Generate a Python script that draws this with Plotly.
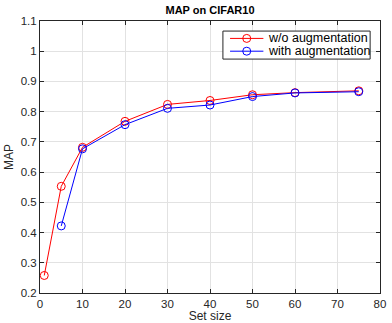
import plotly.graph_objects as go

x_wo = [1, 5, 10, 20, 30, 40, 50, 60, 75]
y_wo = [0.258, 0.553, 0.682, 0.768, 0.824, 0.837, 0.856, 0.863, 0.869]
x_with = [5, 10, 20, 30, 40, 50, 60, 75]
y_with = [0.422, 0.677, 0.757, 0.811, 0.822, 0.850, 0.862, 0.866]

x_ticks = [0, 10, 20, 30, 40, 50, 60, 70, 80]
y_ticks = [0.2, 0.3, 0.4, 0.5, 0.6, 0.7, 0.8, 0.9, 1.0, 1.1]
y_tick_labels = ["0.2", "0.3", "0.4", "0.5", "0.6", "0.7", "0.8", "0.9", "1", "1.1"]

series_names = ["w/o augmentation", "with augmentation"]
series_colors = ["#ff0000", "#0000ff"]

fig = go.Figure()
for xs, ys, name, col in [(x_wo, y_wo, series_names[0], series_colors[0]),
                          (x_with, y_with, series_names[1], series_colors[1])]:
    fig.add_trace(go.Scatter(x=xs, y=ys, mode="lines+markers", name=name,
                             line=dict(color=col, width=1),
                             marker=dict(symbol="circle-open", size=8, color=col, line=dict(width=1))))

# manual compact legend (MATLAB style)
shapes = [dict(type="rect", xref="paper", yref="paper", x0=0.538, x1=0.971, y0=0.860, y1=0.963,
               line=dict(color="#262626", width=1), fillcolor="white", layer="above")]
annotations = []
row_y = [0.936, 0.889]
for name, col, yy in zip(series_names, series_colors, row_y):
    shapes.append(dict(type="line", xref="paper", yref="paper", x0=0.559, x1=0.657, y0=yy, y1=yy,
                       line=dict(color=col, width=1), layer="above"))
    shapes.append(dict(type="circle", xref="paper", yref="paper", xsizemode="pixel", ysizemode="pixel",
                       xanchor=0.608, yanchor=yy, x0=-4, x1=4, y0=-4, y1=4,
                       line=dict(color=col, width=1), fillcolor="rgba(0,0,0,0)", layer="above"))
    annotations.append(dict(text=name, xref="paper", yref="paper", x=0.665, y=yy, xanchor="left",
                            yanchor="middle", showarrow=False, font=dict(size=12.5, color="black")))

font = "Liberation Sans, Arial, sans-serif"
fig.update_layout(
    width=392, height=323,
    margin=dict(l=40, r=12, t=21, b=30),
    paper_bgcolor="white", plot_bgcolor="white",
    font=dict(family=font, size=11.5, color="#262626"),
    title=dict(text="<b>MAP on CIFAR10</b>", x=(40 + 380) / 2 / 392, xanchor="center",
               y=1 - 10 / 323, yanchor="middle", font=dict(size=11, color="black"), automargin=False),
    showlegend=False,
    hovermode=False,
    shapes=shapes,
    annotations=annotations,
    xaxis=dict(range=[0, 80], tickvals=x_ticks, showgrid=True, gridcolor="#e2e2e2", gridwidth=1,
               zeroline=False, showline=True, linecolor="#262626", linewidth=1, mirror="ticks",
               ticks="inside", ticklen=4, tickcolor="#262626", automargin=False,
               title=dict(text="Set size", font=dict(size=12), standoff=2)),
    yaxis=dict(range=[0.2, 1.1], tickvals=y_ticks, ticktext=y_tick_labels, showgrid=True,
               gridcolor="#e2e2e2", gridwidth=1, zeroline=False, showline=True, linecolor="#262626",
               linewidth=1, mirror="ticks", ticks="inside", ticklen=4, tickcolor="#262626",
               automargin=False,
               title=dict(text="MAP", font=dict(size=12), standoff=4)),
)
fig.write_html("out.html", config={"displayModeBar": False, "staticPlot": True},
               post_script="document.body.style.margin='0';document.body.style.overflow='hidden';")
